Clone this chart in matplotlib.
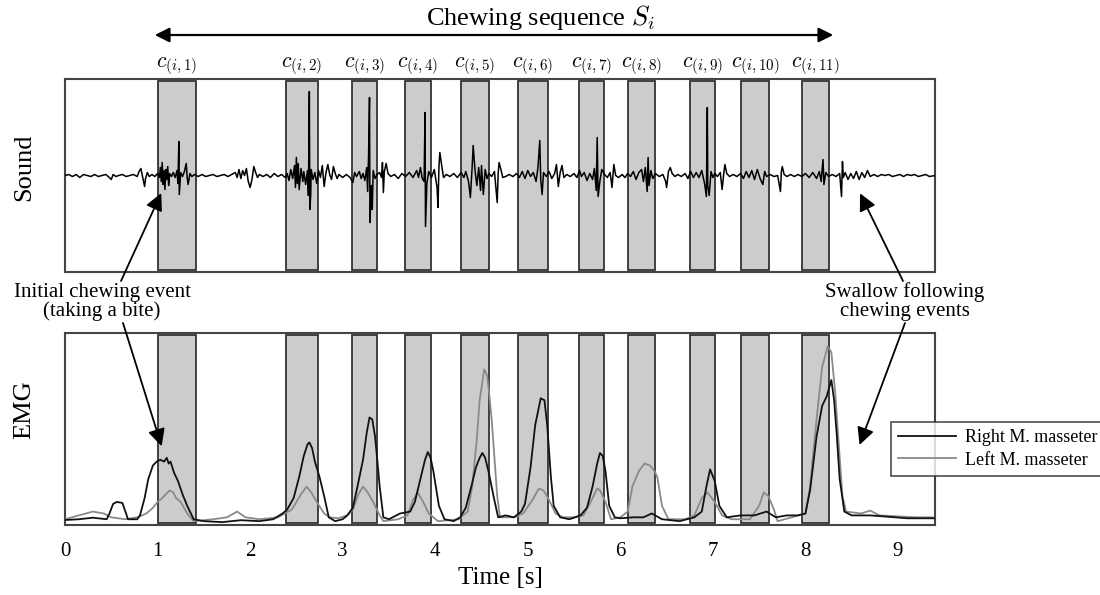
import numpy as np
import matplotlib
matplotlib.use("Agg")
import matplotlib.pyplot as plt

plt.rcParams['font.family'] = ['Liberation Serif', 'DejaVu Serif']
plt.rcParams['mathtext.fontset'] = 'cm'

# chewing event windows (start, end) in seconds
event_start = [1.00, 2.39, 3.10, 3.67, 4.28, 4.89, 5.55, 6.08, 6.75, 7.30, 7.96]
event_end = [1.42, 2.73, 3.37, 3.95, 4.58, 5.22, 5.82, 6.37, 7.02, 7.61, 8.26]
event_labels = [r'$c_{(i,%d)}$' % (k + 1) for k in range(11)]

# sound waveform: (time [s], amplitude)
sound_pts = [
    (0.00, 0), (0.04, 1), (0.08, -1), (0.12, 1), (0.16, -2), (0.20, 1), (0.24, 0), (0.28, -1),
    (0.32, 1), (0.36, -1), (0.40, 0), (0.44, 1), (0.48, -2), (0.50, -4), (0.52, 1), (0.55, -1),
    (0.58, 0), (0.62, 1), (0.66, -1), (0.70, 0), (0.74, 1), (0.78, -1), (0.80, 4), (0.82, 7),
    (0.84, -2), (0.86, -11), (0.87, -3), (0.89, 3), (0.91, -1), (0.94, 1), (0.97, -1), (1.00, 2),
    (1.02, -2), (1.03, 8), (1.04, -6), (1.05, 13), (1.06, -9), (1.07, 5), (1.08, -14), (1.09, 6),
    (1.10, -4), (1.11, 9), (1.12, -10), (1.13, 2), (1.15, -1), (1.17, 3), (1.19, -2), (1.21, 5),
    (1.22, -8), (1.23, 34), (1.235, -19), (1.25, 3), (1.27, -1), (1.29, 4), (1.31, 12), (1.32, -2),
    (1.33, -9), (1.35, 2), (1.37, -1), (1.40, 1), (1.44, -1), (1.48, 1), (1.52, -1), (1.56, 0),
    (1.60, 1), (1.64, -1), (1.68, 0), (1.72, 1), (1.76, -1), (1.80, 1), (1.84, 3), (1.86, -2),
    (1.88, 6), (1.90, -3), (1.92, 5), (1.94, 0), (1.96, 7), (1.98, -6), (2.00, -12), (2.02, -4),
    (2.04, 9), (2.06, 3), (2.08, -2), (2.10, 1), (2.14, -1), (2.18, 1), (2.22, -2), (2.26, 2),
    (2.30, -1), (2.34, 1), (2.38, -2), (2.40, 2), (2.42, -5), (2.44, 6), (2.46, -3), (2.48, 10),
    (2.49, -12), (2.50, 18), (2.51, -8), (2.52, 12), (2.53, -14), (2.55, 7), (2.57, -6), (2.58, 4),
    (2.60, -9), (2.62, 5), (2.63, -20), (2.64, 84), (2.645, -34), (2.655, -20), (2.66, 6), (2.68, -4),
    (2.70, 3), (2.72, -8), (2.74, 5), (2.76, -2), (2.78, 10), (2.80, -11), (2.82, 3), (2.84, 11),
    (2.86, 1), (2.88, -4), (2.90, 9), (2.92, 2), (2.94, -3), (2.96, 1), (3.00, -2), (3.04, 1),
    (3.08, -2), (3.11, -7), (3.13, 3), (3.15, -1), (3.18, 4), (3.20, -3), (3.22, 2), (3.24, -5),
    (3.26, 8), (3.27, -16), (3.28, 20), (3.29, 78), (3.295, -47), (3.31, -10), (3.32, -34), (3.33, 5),
    (3.35, -3), (3.37, 1), (3.40, 3), (3.42, -2), (3.43, 13), (3.44, -17), (3.45, 4), (3.47, 12),
    (3.49, 2), (3.52, -1), (3.56, 1), (3.60, -3), (3.64, 2), (3.68, -1), (3.72, 3), (3.76, -2),
    (3.80, 5), (3.82, -2), (3.84, 8), (3.86, -3), (3.88, -6), (3.89, 63), (3.895, -51), (3.91, -8),
    (3.93, 4), (3.96, -2), (3.99, 6), (4.02, -12), (4.03, -32), (4.04, 8), (4.05, 23), (4.07, 10),
    (4.09, -2), (4.12, 1), (4.16, -1), (4.20, 2), (4.24, -2), (4.28, 3), (4.31, -2), (4.33, 4),
    (4.36, -6), (4.38, -22), (4.40, 10), (4.41, 30), (4.43, 5), (4.45, -10), (4.47, 8), (4.49, -15),
    (4.50, 10), (4.52, -19), (4.54, 6), (4.56, -3), (4.58, 2), (4.61, -1), (4.64, 4), (4.67, -27),
    (4.68, 2), (4.69, 13), (4.71, 6), (4.73, -2), (4.76, -1), (4.80, 1), (4.84, -1), (4.88, 2),
    (4.91, -2), (4.94, 4), (4.97, -3), (5.00, 5), (5.03, -1), (5.06, 3), (5.09, -6), (5.11, 8),
    (5.13, 35), (5.14, -4), (5.155, -19), (5.17, 3), (5.20, -1), (5.23, 4), (5.26, -3), (5.29, 2),
    (5.31, 11), (5.33, -11), (5.35, 3), (5.37, 10), (5.39, -2), (5.42, 1), (5.46, -1), (5.50, 2),
    (5.53, -2), (5.56, 5), (5.58, -1), (5.61, 3), (5.64, -5), (5.67, 2), (5.70, -4), (5.72, 7),
    (5.74, -15), (5.75, 38), (5.76, -21), (5.78, -5), (5.80, 6), (5.83, 1), (5.86, -2), (5.89, 3),
    (5.91, -12), (5.93, 11), (5.95, 0), (5.98, -2), (6.02, 1), (6.05, -2), (6.08, 2), (6.11, -1),
    (6.14, 4), (6.17, -4), (6.20, 3), (6.23, 6), (6.25, -6), (6.27, 8), (6.29, -16), (6.30, 18),
    (6.31, -10), (6.33, 5), (6.35, -3), (6.38, 2), (6.42, -1), (6.46, 1), (6.49, -6), (6.50, -12),
    (6.52, 4), (6.54, 8), (6.56, 2), (6.59, -1), (6.62, 1), (6.66, -1), (6.70, 2), (6.73, -3),
    (6.76, 4), (6.79, -2), (6.82, 3), (6.85, -2), (6.88, 5), (6.91, -8), (6.93, -21), (6.94, 68),
    (6.945, -10), (6.96, -20), (6.98, 4), (7.00, -2), (7.02, 2), (7.05, -1), (7.08, 3), (7.10, -14),
    (7.12, 4), (7.13, 11), (7.15, 2), (7.18, -1), (7.22, 1), (7.26, -1), (7.30, 2), (7.33, -3),
    (7.36, 4), (7.39, -2), (7.42, 5), (7.45, -4), (7.48, 6), (7.51, -3), (7.54, -9), (7.56, 4),
    (7.58, -1), (7.62, 1), (7.66, -1), (7.70, 0), (7.73, -16), (7.74, 4), (7.75, 9), (7.77, 1),
    (7.80, -1), (7.84, 1), (7.88, -1), (7.92, 1), (7.96, -1), (8.00, 2), (8.04, -2), (8.08, 3),
    (8.12, -3), (8.15, 4), (8.17, -6), (8.19, 16), (8.20, -9), (8.22, 3), (8.25, -1), (8.29, 1),
    (8.33, -1), (8.37, 2), (8.39, -21), (8.40, 14), (8.41, -2), (8.43, 3), (8.46, -4), (8.49, 2),
    (8.52, -3), (8.55, 4), (8.58, -4), (8.61, 3), (8.64, -2), (8.67, 5), (8.70, -1), (8.74, 1),
    (8.78, -1), (8.82, 1), (8.86, 0), (8.90, 1), (8.94, -1), (8.98, 0), (9.02, 1), (9.06, -1),
    (9.10, 1), (9.14, 0), (9.18, 1), (9.22, -1), (9.26, 0), (9.30, 1), (9.34, -1), (9.40, 0),
]

# EMG envelopes (time [s], normalised amplitude)
emg_right = [
    (0.00, 0.026), (0.15, 0.03), (0.30, 0.038), (0.45, 0.03), (0.48, 0.06), (0.52, 0.11), (0.56, 0.12),
    (0.62, 0.115), (0.66, 0.06), (0.68, 0.03), (0.78, 0.03), (0.81, 0.05), (0.86, 0.14), (0.90, 0.24),
    (0.95, 0.31), (0.99, 0.33), (1.03, 0.34), (1.07, 0.33), (1.10, 0.35), (1.12, 0.32), (1.14, 0.33),
    (1.18, 0.27), (1.22, 0.23), (1.27, 0.16), (1.32, 0.10), (1.39, 0.03), (1.50, 0.02), (1.70, 0.015),
    (1.90, 0.025), (2.10, 0.02), (2.25, 0.03), (2.35, 0.06), (2.40, 0.08), (2.47, 0.14), (2.53, 0.25),
    (2.58, 0.36), (2.62, 0.42), (2.64, 0.43), (2.67, 0.40), (2.70, 0.33), (2.75, 0.25), (2.80, 0.15),
    (2.85, 0.04), (2.92, 0.02), (3.00, 0.03), (3.05, 0.05), (3.11, 0.09), (3.16, 0.20), (3.22, 0.34),
    (3.26, 0.48), (3.29, 0.56), (3.32, 0.55), (3.35, 0.46), (3.37, 0.36), (3.40, 0.20), (3.44, 0.04),
    (3.50, 0.03), (3.62, 0.06), (3.73, 0.07), (3.78, 0.12), (3.84, 0.24), (3.89, 0.34), (3.92, 0.38),
    (3.95, 0.35), (3.98, 0.28), (4.04, 0.10), (4.10, 0.03), (4.20, 0.02), (4.27, 0.04), (4.33, 0.09),
    (4.39, 0.20), (4.44, 0.30), (4.48, 0.35), (4.51, 0.375), (4.54, 0.35), (4.58, 0.27), (4.63, 0.15),
    (4.68, 0.04), (4.76, 0.05), (4.85, 0.04), (4.93, 0.07), (4.97, 0.11), (5.03, 0.30), (5.08, 0.52),
    (5.14, 0.66), (5.18, 0.65), (5.21, 0.52), (5.25, 0.25), (5.28, 0.10), (5.35, 0.04), (5.45, 0.03),
    (5.57, 0.05), (5.64, 0.09), (5.70, 0.20), (5.75, 0.32), (5.78, 0.375), (5.81, 0.36), (5.84, 0.28),
    (5.88, 0.10), (5.94, 0.04), (6.00, 0.035), (6.14, 0.04), (6.25, 0.04), (6.34, 0.06), (6.45, 0.03),
    (6.64, 0.02), (6.80, 0.04), (6.88, 0.07), (6.93, 0.20), (6.97, 0.29), (7.02, 0.23), (7.07, 0.10),
    (7.15, 0.04), (7.30, 0.05), (7.45, 0.05), (7.58, 0.07), (7.68, 0.04), (7.80, 0.05), (7.92, 0.05),
    (8.00, 0.06), (8.05, 0.18), (8.12, 0.46), (8.18, 0.62), (8.23, 0.67), (8.28, 0.755), (8.31, 0.65),
    (8.34, 0.46), (8.37, 0.24), (8.42, 0.07), (8.50, 0.05), (8.70, 0.05), (8.84, 0.045), (9.10, 0.035),
    (9.40, 0.035),
]
emg_left = [
    (0.00, 0.03), (0.15, 0.05), (0.30, 0.07), (0.42, 0.06), (0.50, 0.04), (0.65, 0.03), (0.78, 0.04),
    (0.88, 0.06), (0.95, 0.09), (1.00, 0.12), (1.05, 0.14), (1.09, 0.16), (1.13, 0.18), (1.17, 0.17),
    (1.20, 0.14), (1.25, 0.12), (1.32, 0.06), (1.39, 0.02), (1.60, 0.03), (1.75, 0.04), (1.86, 0.07),
    (1.95, 0.04), (2.10, 0.03), (2.30, 0.04), (2.45, 0.08), (2.55, 0.16), (2.61, 0.20), (2.66, 0.17),
    (2.72, 0.12), (2.80, 0.06), (2.86, 0.04), (2.95, 0.035), (3.05, 0.05), (3.11, 0.08), (3.17, 0.16),
    (3.22, 0.20), (3.27, 0.17), (3.33, 0.12), (3.40, 0.05), (3.44, 0.02), (3.60, 0.03), (3.70, 0.05),
    (3.76, 0.13), (3.81, 0.17), (3.87, 0.12), (3.93, 0.06), (4.03, 0.02), (4.25, 0.03), (4.35, 0.07),
    (4.40, 0.20), (4.45, 0.45), (4.48, 0.65), (4.53, 0.81), (4.56, 0.78), (4.58, 0.70), (4.61, 0.55),
    (4.64, 0.35), (4.67, 0.15), (4.70, 0.04), (4.85, 0.04), (4.95, 0.06), (5.05, 0.13), (5.12, 0.19),
    (5.17, 0.18), (5.22, 0.14), (5.30, 0.06), (5.38, 0.04), (5.50, 0.04), (5.60, 0.05), (5.68, 0.12),
    (5.75, 0.19), (5.78, 0.18), (5.84, 0.12), (5.90, 0.03), (6.00, 0.04), (6.08, 0.07), (6.13, 0.20),
    (6.20, 0.28), (6.26, 0.32), (6.32, 0.31), (6.37, 0.28), (6.40, 0.25), (6.45, 0.10), (6.52, 0.03),
    (6.70, 0.03), (6.80, 0.05), (6.88, 0.14), (6.94, 0.17), (7.02, 0.12), (7.10, 0.05), (7.20, 0.03),
    (7.40, 0.03), (7.50, 0.10), (7.55, 0.17), (7.60, 0.15), (7.66, 0.08), (7.70, 0.02), (7.85, 0.04),
    (8.00, 0.06), (8.05, 0.20), (8.12, 0.55), (8.18, 0.82), (8.24, 0.93), (8.28, 0.90), (8.32, 0.70),
    (8.36, 0.42), (8.40, 0.15), (8.44, 0.07), (8.60, 0.06), (8.70, 0.075), (8.80, 0.05), (9.00, 0.045),
    (9.20, 0.04), (9.40, 0.04),
]
x_ticks = list(range(10))

W, H = 1100, 595
fig = plt.figure(figsize=(W / 100, H / 100), dpi=100)


def fx(px):
    return px / W


def fy(py):
    return 1 - py / H


ax1 = fig.add_axes([fx(65), fy(272), fx(870), fy(79) - fy(272)])
ax2 = fig.add_axes([fx(65), fy(525), fx(870), fy(333) - fy(525)])

span_face = '#cccccc'
span_edge = '#333333'
for ax in (ax1, ax2):
    for s, e in zip(event_start, event_end):
        ax.axvspan(s, e, ymin=0.01, ymax=0.99, facecolor=span_face, edgecolor=span_edge, lw=1.3, zorder=1)
    ax.set_xlim(0, 9.4)
    for sp in ax.spines.values():
        sp.set_color('#444444')
        sp.set_linewidth(1.5)
    ax.set_yticks([])

st, sv = zip(*sound_pts)
ax1.plot(st, sv, color='black', lw=1.1, zorder=3)
ax1.set_ylim(-96.5, 96.5)
ax1.set_xticks([])

rt, rv = zip(*emg_right)
lt, lv = zip(*emg_left)
ax2.plot(lt, lv, color='#8a8a8a', lw=1.3, zorder=3, label='Left M. masseter')
ax2.plot(rt, rv, color='#111111', lw=1.3, zorder=4, label='Right M. masseter')
ax2.set_ylim(0, 1)
ax2.set_xticks(x_ticks)
ax2.tick_params(axis='x', length=0, pad=12, labelsize=15)

fig.text(fx(24), fy(167), 'Sound', rotation=90, ha='center', va='center', fontsize=19)
fig.text(fx(24), fy(410), 'EMG', rotation=90, ha='center', va='center', fontsize=19)
fig.text(fx(500), fy(578), 'Time [s]', ha='center', va='center', fontsize=18)

# chewing-event labels
for s, e, lab in zip(event_start, event_end, event_labels):
    ax1.text((s + e) / 2, 1.065, lab, transform=ax1.get_xaxis_transform(),
             ha='center', va='center', fontsize=15.5)

# chewing sequence arrow
fig.text(fx(540), fy(18), r'Chewing sequence $S_i$', ha='center', va='center', fontsize=19)
fig.add_artist(matplotlib.patches.FancyArrowPatch(
    (fx(152), fy(35)), (fx(836), fy(35)), transform=fig.transFigure,
    arrowstyle='<|-|>', mutation_scale=22, lw=1.6, color='black'))

arrow_kw = dict(arrowstyle='-|>', mutation_scale=26, lw=1.3, color='black', shrinkA=0, shrinkB=0)
fig.text(fx(102), fy(302), 'Initial chewing event\n(taking a bite)', ha='center', va='center',
         fontsize=15, linespacing=1.0)
ax1.annotate('', xy=(1.04, -17.5), xytext=(fx(121), fy(281)), textcoords='figure fraction',
             arrowprops=arrow_kw, annotation_clip=False)
ax2.annotate('', xy=(1.044, 0.41), xytext=(fx(123), fy(323)), textcoords='figure fraction',
             arrowprops=arrow_kw, annotation_clip=False)

fig.text(fx(905), fy(302), 'Swallow following\nchewing events', ha='center', va='center',
         fontsize=15, linespacing=1.0)
ax1.annotate('', xy=(8.59, -17.8), xytext=(fx(903), fy(281)), textcoords='figure fraction',
             arrowprops=arrow_kw, annotation_clip=False)
ax2.annotate('', xy=(8.585, 0.417), xytext=(fx(905), fy(323)), textcoords='figure fraction',
             arrowprops=arrow_kw, annotation_clip=False)

handles, labels = ax2.get_legend_handles_labels()
leg = fig.legend(handles[::-1], labels[::-1], loc='upper left', bbox_to_anchor=(fx(891), fy(422)),
                 frameon=True, fancybox=False, edgecolor='#222222', fontsize=13,
                 handlelength=3.2, borderaxespad=0, borderpad=0.4, labelspacing=0.3, handletextpad=0.5)
leg.get_frame().set_linewidth(1.2)

fig.savefig('out.png', dpi=100)
